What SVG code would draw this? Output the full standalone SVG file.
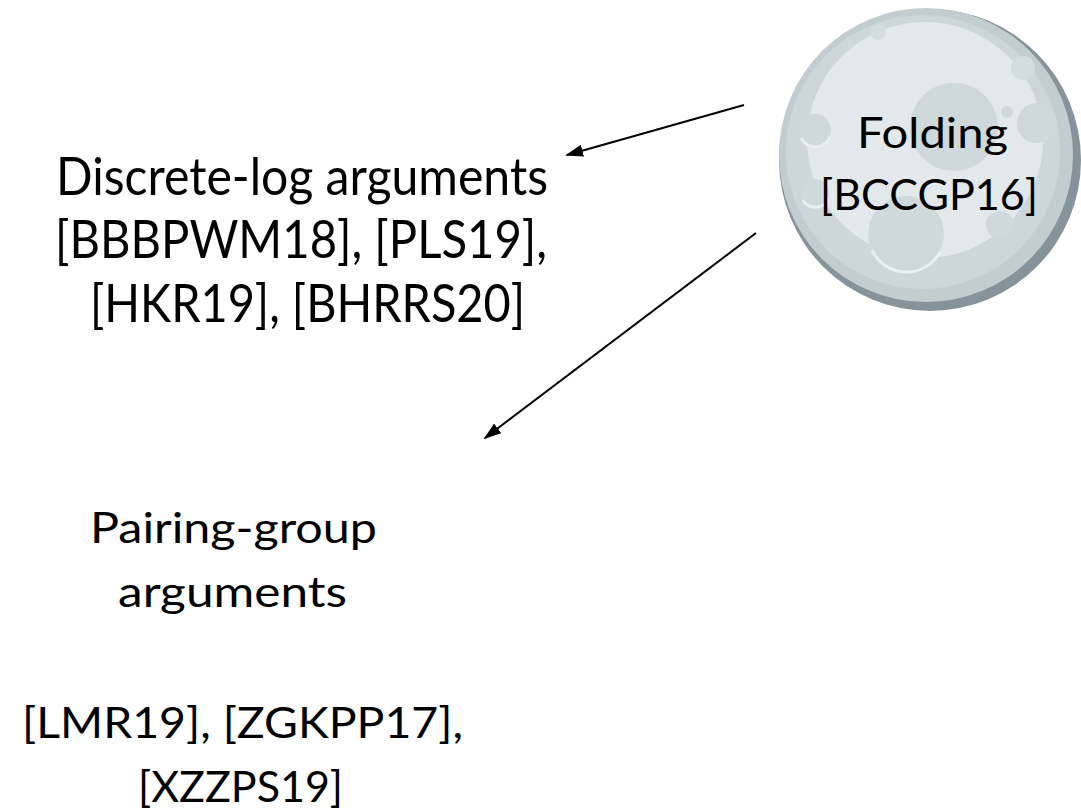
<svg xmlns="http://www.w3.org/2000/svg" width="1081" height="811" viewBox="0 0 1081 811">
  <style>
    .t { font-family: Lato, "Liberation Sans", sans-serif; fill: #000; text-anchor: middle; }
    .big { font-size: 52px; }
    .mid { font-size: 43px; }
    .edge { stroke: #000; stroke-width: 2; fill: none; }
    .crater { fill: #cfd8da; }
    .rim { fill: none; stroke: #eaeff0; stroke-width: 3; }
  </style>
  <defs>
    <marker id="head" viewBox="0 0 18 12" markerWidth="18" markerHeight="12" refX="16" refY="6" orient="auto" markerUnits="userSpaceOnUse">
      <path d="M0,0 L18,6 L0,12 z" fill="#000"/>
    </marker>
    <clipPath id="moonClip">
      <circle cx="926" cy="155" r="147"/>
    </clipPath>
  </defs>
  <rect width="1081" height="811" fill="#fff"/>

  <!-- moon-shaped node -->
  <g id="folding">
    <circle cx="930" cy="160" r="151" fill="#86939a"/>
    <circle cx="926" cy="155" r="147" fill="#c3cdcf"/>
    <g clip-path="url(#moonClip)">
      <circle cx="923" cy="152" r="137" fill="#cdd6d9"/>
      <circle cx="925" cy="140" r="118" fill="#e3e9ea"/>
      <circle cx="954" cy="127" r="44" class="crater"/>
      <circle cx="906" cy="234" r="38" class="crater"/>
      <path d="M872,250 A38,38 0 0 0 940,252" class="rim"/>
      <circle cx="815" cy="130" r="16" class="crater"/>
      <path d="M801,138 A16,16 0 0 0 830,137" class="rim"/>
      <circle cx="815" cy="193" r="14" class="crater"/>
      <path d="M803,200 A14,14 0 0 0 828,199" class="rim"/>
      <circle cx="1037" cy="123" r="20" class="crater"/>
      <circle cx="1007" cy="112" r="6" class="crater"/>
      <circle cx="1000" cy="225" r="14" class="crater"/>
      <circle cx="878" cy="32" r="8" fill="#d3dcde"/>
      <circle cx="1023" cy="68" r="12" fill="#d3dcde"/>
    </g>
    <text class="t mid" x="932.5" y="148" textLength="151" lengthAdjust="spacingAndGlyphs">Folding</text>
    <text class="t mid" x="929" y="210" textLength="218" lengthAdjust="spacingAndGlyphs">[BCCGP16]</text>
  </g>

  <g id="discrete-log">
    <text class="t big" x="302" y="195" textLength="492" lengthAdjust="spacingAndGlyphs">Discrete-log arguments</text>
    <text class="t big" x="301" y="258" textLength="492" lengthAdjust="spacingAndGlyphs">[BBBPWM18], [PLS19],</text>
    <text class="t big" x="307.5" y="322" textLength="435" lengthAdjust="spacingAndGlyphs">[HKR19], [BHRRS20]</text>
  </g>

  <g id="pairing-group">
    <text class="t mid" x="233.5" y="543" textLength="287" lengthAdjust="spacingAndGlyphs">Pairing-group</text>
    <text class="t mid" x="232.5" y="607" textLength="229" lengthAdjust="spacingAndGlyphs">arguments</text>
    <text class="t mid" x="242.5" y="738" textLength="441" lengthAdjust="spacingAndGlyphs">[LMR19], [ZGKPP17],</text>
    <text class="t mid" x="240.5" y="802" textLength="205" lengthAdjust="spacingAndGlyphs">[XZZPS19]</text>
  </g>

  <g id="connectors">
    <line x1="744" y1="105" x2="567" y2="155" class="edge" marker-end="url(#head)"/>
    <line x1="756" y1="233" x2="485" y2="438" class="edge" marker-end="url(#head)"/>
  </g>
</svg>
